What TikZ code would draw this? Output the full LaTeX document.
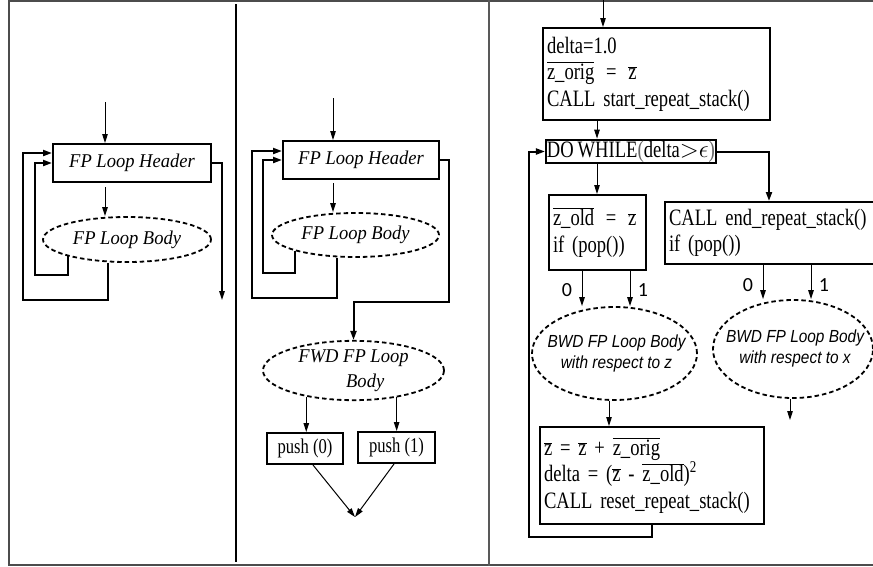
\documentclass[tikz,border=0pt]{standalone}
\usepackage{fontspec}
\usepackage{graphicx}
\setmainfont{Liberation Serif}
\newfontfamily\cfont[FakeStretch=0.79]{Liberation Serif}
\newfontfamily\ifont[FakeStretch=0.95]{Liberation Serif}
\newfontfamily\sfont{Liberation Sans}
\newfontfamily\lfont{Carlito}
\usetikzlibrary{arrows.meta,shapes.geometric}
\newcommand{\ovl}[1]{$\overline{\hbox{#1}}$}
\newcommand{\bwdtext}[1]{\resizebox{138pt}{\height}{\begin{tabular}{@{}c@{}}BWD FP Loop Body\\[-1pt]with respect to #1\end{tabular}}}
\begin{document}
\begin{tikzpicture}[x=1pt,y=-1pt,
  hdr/.style={draw, line width=2pt, inner sep=0pt, font=\ifont\itshape\fontsize{19.5}{22}\selectfont},
  body/.style={ellipse, draw, line width=1.8pt, dash pattern=on 4.5pt off 3pt, inner sep=0pt, align=center, font=\ifont\itshape\fontsize{19.5}{25}\selectfont},
  bwd/.style={ellipse, draw, line width=1.8pt, dash pattern=on 4.5pt off 3pt, inner sep=0pt},
  bwdt/.style={inner sep=0pt, font=\sfont\itshape\fontsize{17.5}{22}\selectfont},
  cbox/.style={draw, line width=2pt, inner sep=4pt, align=left, font=\cfont\fontsize{23.5}{26.5}\selectfont},
  pbox/.style={draw, line width=2pt, inner sep=0pt, font=\cfont\fontsize{21}{22}\selectfont},
  lbl/.style={inner sep=0pt, font=\lfont\fontsize{20}{22}\selectfont},
  arr/.style={line width=1pt, -{Triangle[length=9pt,width=5.5pt]}},
  tarr/.style={line width=2pt, -{Triangle[length=9pt,width=6pt]}},
  fr/.style={draw=black!70, line width=2pt}]
\clip (0,0) rectangle (873,566);
% frame
\draw[fr] (873,1) -- (9,1) -- (9,564.5) -- (873,564.5);
\draw[line width=2pt] (236,4) -- (236,562);
\draw[draw=black!65, line width=1.5pt] (489,0) -- (489,566);

% ---------- panel 1
\node[hdr, minimum width=158, minimum height=38] (h1) at (132,163) {FP Loop Header};
\node[body, minimum width=168, minimum height=45] (b1) at (127,239.5) {FP Loop Body};
\coordinate (t1) at (105,102);
\draw[arr] (t1) -- (t1 |- h1.north);
\draw[arr, shorten <=4pt] (h1.south -| t1) -- (b1.north -| t1);
\draw[tarr] (b1.196) -- (b1.196 |- 0,275) -- (35,275) -- (35,163) -- (h1.west);
\draw[tarr] (b1.south -| 108,0) -- (108,300) -- (23,300) -- (23,153) -- (h1.west |- 0,153);
\coordinate (e1) at (222,300);
\draw[arr, line width=1.5pt] (h1.east) -| (e1);

% ---------- panel 2
\node[hdr, minimum width=156, minimum height=38] (h2) at (361,160) {FP Loop Header};
\node[body, minimum width=167, minimum height=44] (b2) at (355.5,235) {FP Loop Body};
\coordinate (t2) at (333,98);
\draw[arr] (t2) -- (t2 |- h2.north);
\draw[arr, shorten <=3pt] (h2.south -| t2) -- (b2.north -| t2);
\draw[tarr] (b2.195) -- (b2.195 |- 0,273) -- (263,273) -- (263,160) -- (h2.west);
\draw[tarr] (b2.south -| 337,0) -- (337,298) -- (252,298) -- (252,151) -- (h2.west |- 0,151);
\node[body, minimum width=181, minimum height=59] (f2) at (353.5,370.5) {FWD FP Loop\\\hspace*{1.2em}Body};
\draw[tarr] (h2.east) -- (449,160) -- (449,302) -- (f2.north |- 0,302) -- (f2.north);
\node[pbox, minimum width=76, minimum height=31] (p0) at (305,448.5) {push (0)};
\node[pbox, minimum width=77, minimum height=31] (p1) at (396.5,447.5) {push (1)};
\draw[arr] (f2.209) -- (p0.north -| f2.209);
\draw[arr] (f2.328) -- (p1.north -| f2.328);
\coordinate (m2) at (355,517);
\draw[arr] (p0.south -| 313,0) -- (m2);
\draw[arr] (p1.south -| 394,0) -- (m2);

% ---------- panel 3
\coordinate (t3) at (603,0);
\node[cbox, text width=219, minimum height=92] (A) at (656.5,74)
  {delta=1.0\\ \ovl{z\_orig} \,=\, \ovl{z}\\ CALL start\_repeat\_stack()};
\draw[arr] (t3) -- (t3 |- A.north);
\node[cbox, inner sep=1pt, minimum width=164, minimum height=23] (D) at (631,151.5)
  {DO\,WHILE{\color{black!60}\fontsize{24}{24}\selectfont(}delta${>}\epsilon${\color{black!60}\fontsize{24}{24}\selectfont)}};
\draw[arr] (A.south -| 597,0) -- (D.north -| 597,0);
\node[cbox, text width=89, minimum height=75] (Z) at (597.5,232.5)
  {\ovl{z\_old} \,=\, \ovl{z}\\ if (pop())};
\draw[arr] (D.south -| 597,0) -- (Z.north -| 597,0);
\node[cbox, text width=208, minimum height=62, anchor=west] (E) at (664,233)
  {CALL end\_repeat\_stack()\\ if (pop())};
\draw[tarr] (D.east) -| (E.north -| 769,0);
\node[bwd, minimum width=165, minimum height=93] (W1) at (614.5,353.5) {};
\node[bwdt] (W1t) at ([xshift=2pt]W1.center) {\bwdtext{z}};
\node[bwd, minimum width=160, minimum height=98] (W2) at (793,349) {};
\node[bwdt] (W2t) at ([xshift=2pt]W2.center) {\bwdtext{x}};
\draw[arr] (Z.south -| 582,0) -- (W1.north -| 582,0);
\draw[arr] (Z.south -| 630,0) -- (W1.north -| 630,0);
\draw[arr] (E.south -| 763,0) -- (W2.north -| 763,0);
\draw[arr] (E.south -| 811,0) -- (W2.north -| 811,0);
\node[lbl] (z0) at (567,290) {0};
\node[lbl] (z1) at (643,290) {1};
\node[lbl] (e0) at (748,285) {0};
\node[lbl] (e1l) at (824,285) {1};
\node[cbox, text width=216, minimum height=97] (F) at (652,475.5)
  {\ovl{z} = \ovl{z} + \ovl{z\_orig}\\ delta = (\ovl{z} - \ovl{z\_old})\textsuperscript{2}\\ CALL reset\_repeat\_stack()};
\draw[arr] (W1.south -| 609,0) -- (F.north -| 609,0);
\coordinate (x2) at (790,420);
\draw[arr] (W2.south -| x2) -- (x2);
\draw[tarr] (F.south) -- (652,537) -- (529,537) -- (529,151.5) -- (D.west);
\end{tikzpicture}
\end{document}
